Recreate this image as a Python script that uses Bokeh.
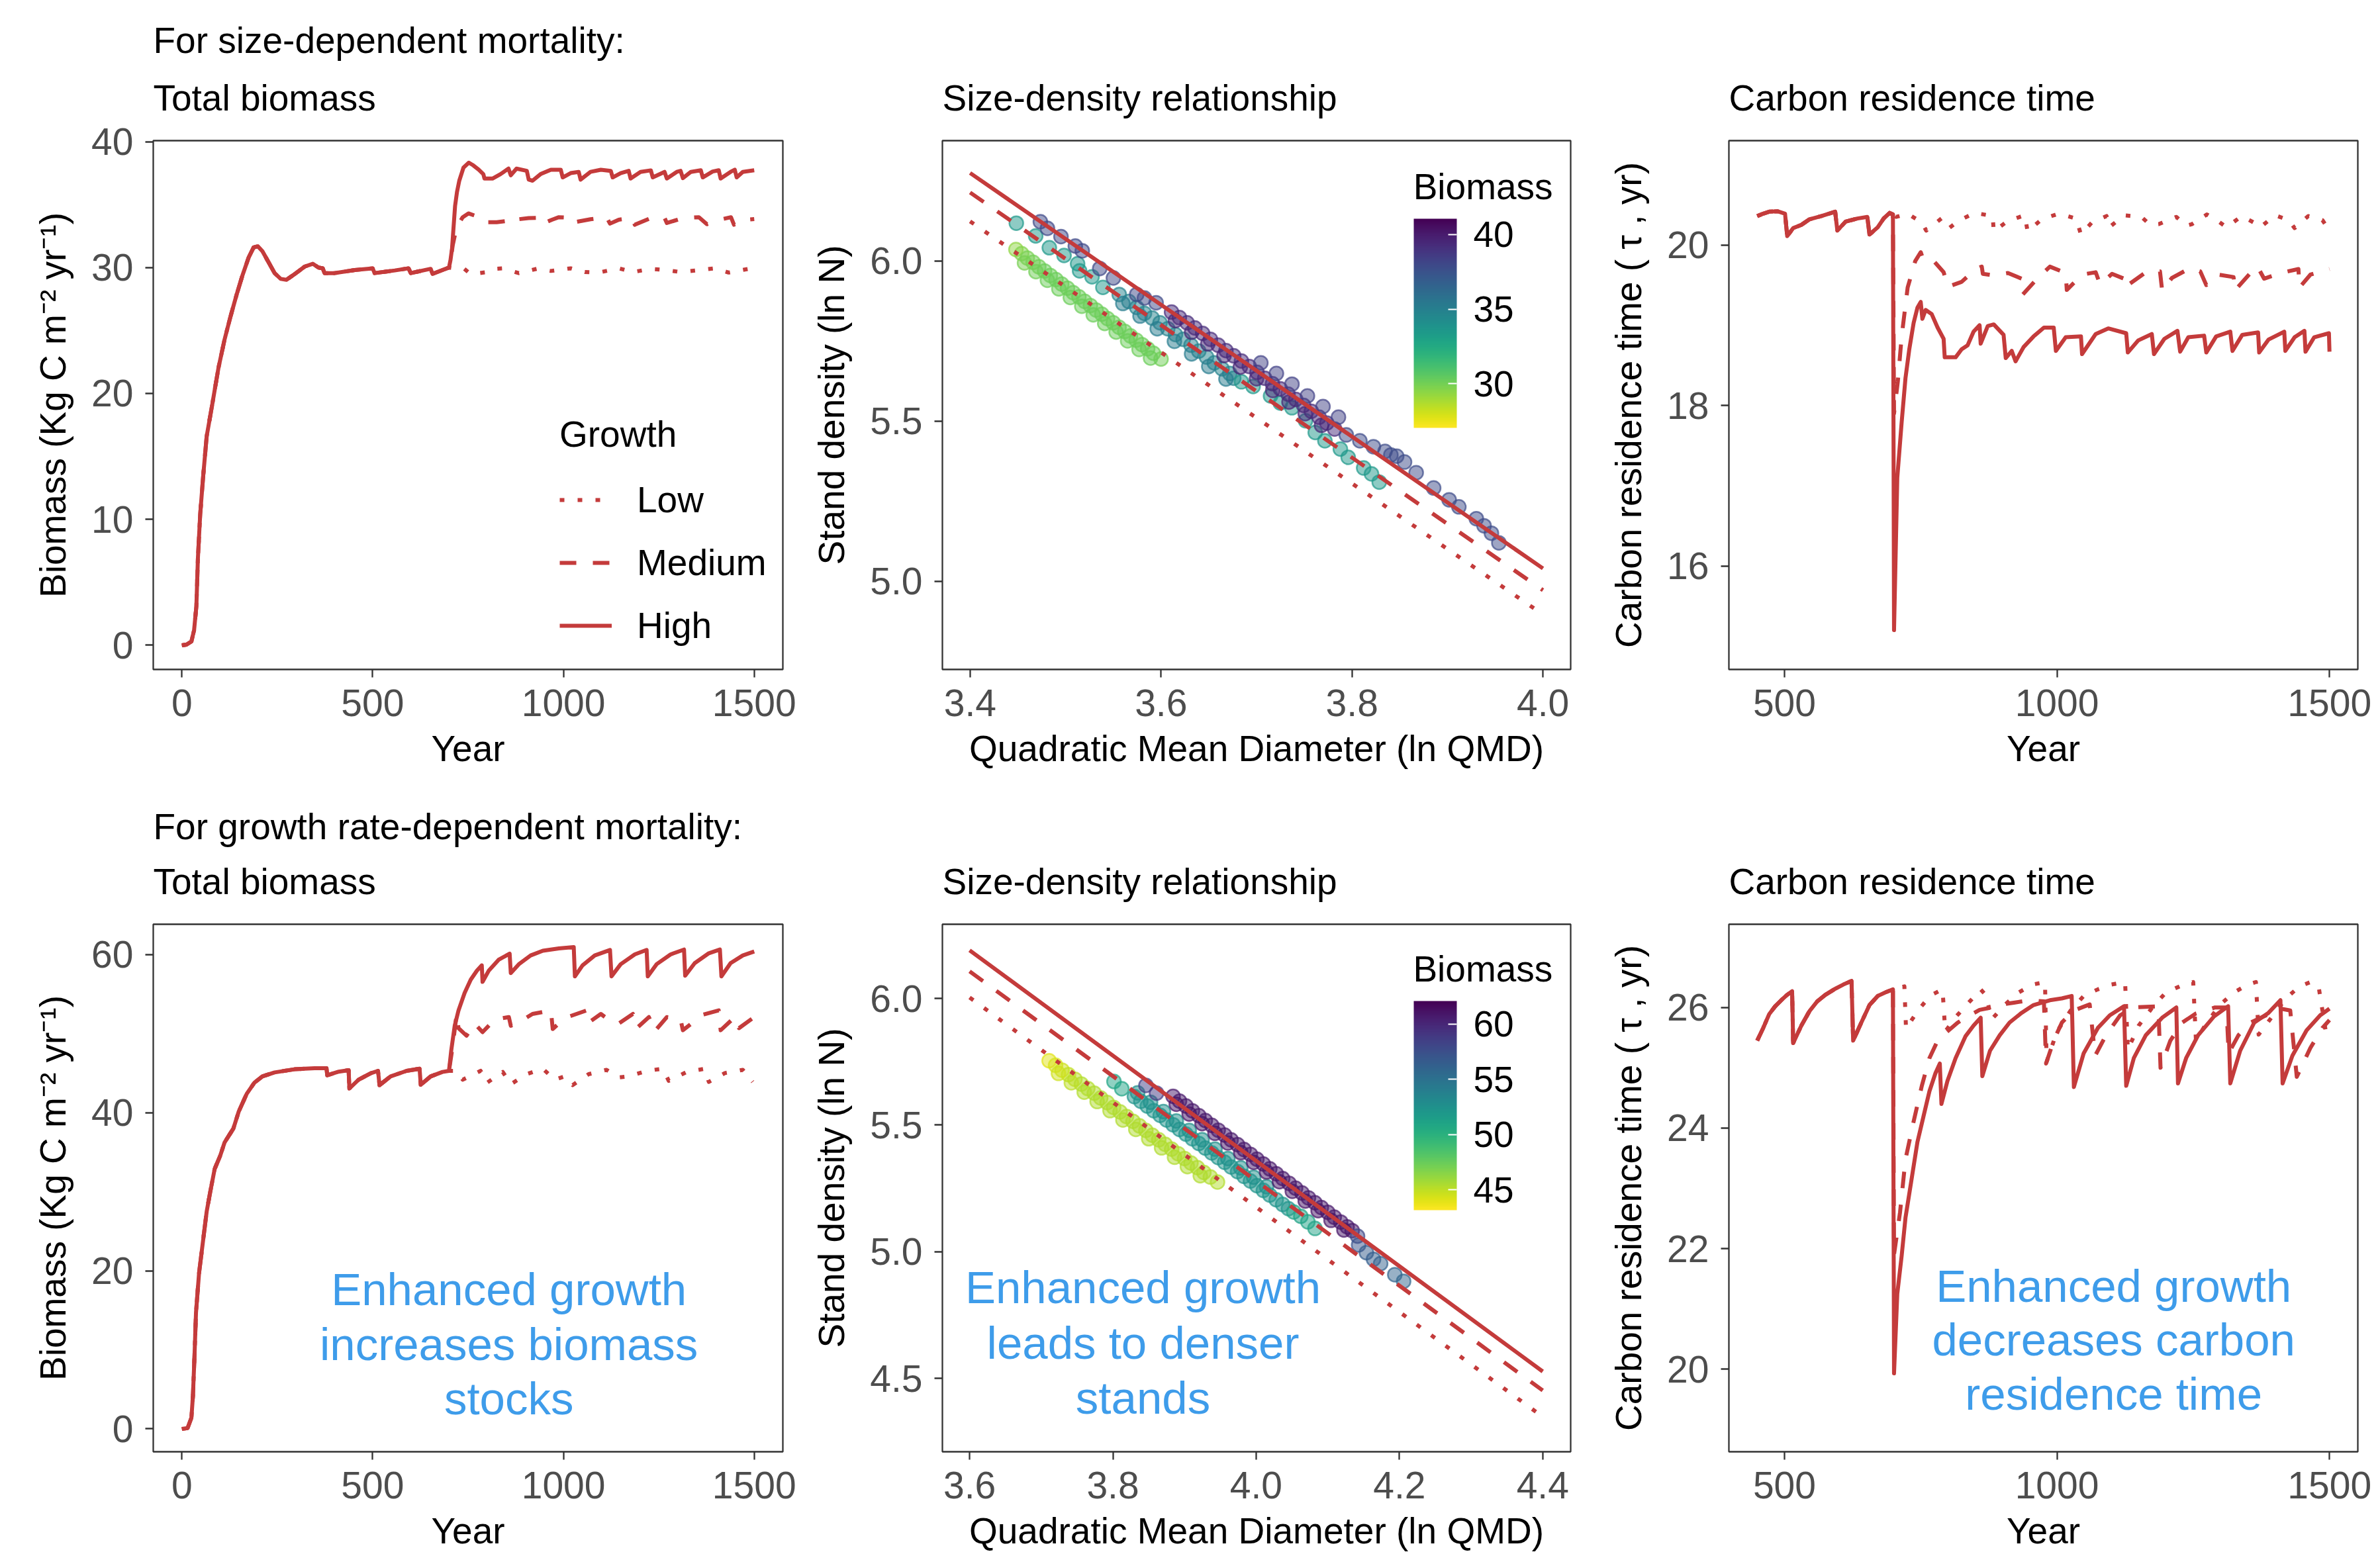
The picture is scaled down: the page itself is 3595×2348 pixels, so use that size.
from bokeh.plotting import figure
from bokeh.layouts import row, column
from bokeh.models import (Range1d, FixedTicker, PrintfTickFormatter, Title, Legend, LegendItem,
                          ColorBar, LinearColorMapper, ColumnDataSource, Label)
from bokeh.palettes import Viridis256
from bokeh.transform import transform
from bokeh.core.properties import value
from bokeh.embed import file_html
from bokeh.resources import INLINE

# ---------------- DATA ----------------
GROWTH = ["Low", "Medium", "High"]

# Panel A: size-dependent mortality, total biomass
SZ_YEAR_PRE = [0, 12, 25, 32, 38, 42, 48, 56, 65, 80, 96, 112, 127, 143, 159, 175, 188, 199, 211, 227,
               243, 259, 274, 295, 322, 343, 358, 369, 374, 400, 453, 500, 505, 558, 594, 600, 652, 657, 683, 700]
SZ_BM_PRE = [0, 0.05, 0.3, 1.2, 3.1, 6.9, 10.4, 13.5, 16.6, 19.2, 22.05, 24.3, 26.06, 27.8, 29.4, 30.8, 31.6, 31.69, 31.3, 30.43,
             29.56, 29.1, 29.03, 29.47, 30.08, 30.3, 30.0, 29.94, 29.56, 29.56, 29.8, 29.94, 29.56, 29.77, 29.94, 29.56, 29.9, 29.5, 29.8, 30.0]
SZ_YEAR_HIGH = [704, 708, 712, 716, 721, 727, 738, 752, 762, 778, 790, 793, 814, 835, 856, 862, 877, 904, 909, 919,
                940, 967, 993, 998, 1019, 1040, 1045, 1071, 1098, 1124, 1129, 1150, 1171, 1176, 1202, 1229, 1234, 1265, 1271, 1297,
                1307, 1313, 1334, 1360, 1365, 1391, 1407, 1412, 1438, 1449, 1454, 1470, 1500]
SZ_BM_HIGH = [30.6, 31.5, 33.2, 34.9, 36.0, 36.9, 37.94, 38.33, 38.15, 37.77, 37.42, 37.07, 37.07, 37.42, 37.86, 37.33, 37.86, 37.68, 36.98, 36.9,
              37.42, 37.77, 37.77, 37.16, 37.5, 37.6, 36.98, 37.6, 37.77, 37.68, 37.16, 37.5, 37.68, 37.07, 37.6, 37.72, 37.16, 37.6, 37.07, 37.6,
              37.68, 37.1, 37.6, 37.73, 37.16, 37.63, 37.73, 37.07, 37.6, 37.77, 37.16, 37.6, 37.73]
SZ_YEAR_MED = [704, 710, 720, 736, 751, 770, 790, 797, 825, 850, 867, 883, 909, 940, 946, 970, 988, 1025, 1029, 1071,
               1113, 1122, 1145, 1180, 1187, 1229, 1265, 1271, 1313, 1355, 1376, 1410, 1439, 1447, 1465, 1500]
SZ_BM_MED = [30.5, 31.8, 33.2, 34.0, 34.3, 34.1, 33.9, 33.6, 33.6, 33.7, 33.49, 33.84, 33.93, 33.95, 33.49, 33.8, 34.0, 33.95, 33.6, 33.84,
             34.0, 33.49, 33.8, 33.95, 33.4, 33.93, 33.95, 33.54, 33.93, 34.0, 33.44, 33.8, 34.0, 33.4, 33.75, 33.85]
SZ_YEAR_LOW = [715, 740, 757, 799, 820, 841, 883, 930, 967, 1019, 1056, 1092, 1145, 1182, 1229, 1271, 1307, 1355, 1396, 1433, 1486, 1500]
SZ_BM_LOW = [29.94, 29.9, 29.47, 29.64, 29.9, 29.94, 29.56, 29.9, 29.73, 29.94, 29.64, 29.6, 29.94, 29.64, 29.9, 29.8, 29.64, 29.8, 29.94, 29.6, 29.9, 29.9]

# Panel B: size-dependent mortality, size-density relationship
SD1_LINE_X = [3.4, 4.0]
SD1_LINE_LOW = [6.124, 4.896]
SD1_LINE_MED = [6.214, 4.972]
SD1_LINE_HIGH = [6.275, 5.040]
SD1_LOW_QMD = [3.448, 3.454, 3.460, 3.466, 3.472, 3.478, 3.484, 3.490, 3.496, 3.502, 3.508, 3.514, 3.520, 3.526, 3.532, 3.538,
               3.544, 3.550, 3.556, 3.562, 3.568, 3.574, 3.580, 3.586, 3.592, 3.600,
               3.457, 3.469, 3.481, 3.493, 3.505, 3.517, 3.529, 3.541, 3.553, 3.565, 3.577, 3.589]
SD1_LOW_N = [6.036, 6.023, 6.009, 5.996, 5.982, 5.969, 5.955, 5.942, 5.928, 5.915, 5.901, 5.888, 5.874, 5.861, 5.847, 5.834,
             5.820, 5.807, 5.793, 5.780, 5.766, 5.753, 5.739, 5.726, 5.712, 5.694,
             5.994, 5.967, 5.940, 5.913, 5.886, 5.859, 5.832, 5.805, 5.778, 5.751, 5.724, 5.697]
SD1_LOW_BM = [29.4, 29.7, 29.9, 30.0, 30.1, 30.2, 30.2, 30.2, 30.2, 30.2, 30.2, 30.2, 30.2, 30.2, 30.2, 30.2,
              30.2, 30.2, 30.2, 30.2, 30.2, 30.2, 30.2, 30.2, 30.2, 30.1,
              29.9, 30.1, 30.2, 30.2, 30.2, 30.2, 30.2, 30.2, 30.2, 30.2, 30.2, 30.2]
SD1_MED_QMD = [3.4484, 3.4687, 3.4830, 3.4984, 3.5126, 3.5147, 3.5277, 3.5391,
               3.5562, 3.5663, 3.5745, 3.5826, 3.5907, 3.5989, 3.6070, 3.6151, 3.6232, 3.6314, 3.6395, 3.6476, 3.6558, 3.6639, 3.6720, 3.6761,
               3.5600, 3.5780, 3.5960, 3.6140, 3.6320, 3.6500, 3.6680,
               3.6842, 3.6964, 3.7147, 3.7249, 3.7371, 3.7513, 3.7615, 3.7716, 3.7878, 3.7960, 3.8122, 3.8204, 3.8285]
SD1_MED_N = [6.1183, 6.0784, 6.0415, 6.0173, 5.9915, 5.9693, 5.9509, 5.9177,
             5.8956, 5.8735, 5.8551, 5.8367, 5.8219, 5.8072, 5.7887, 5.7703, 5.7556, 5.7371, 5.7187, 5.7003, 5.6819, 5.6634, 5.6487, 5.6340,
             5.8673, 5.8280, 5.7887, 5.7494, 5.7101, 5.6709, 5.6316,
             5.6229, 5.6081, 5.5787, 5.5565, 5.5418, 5.5013, 5.4644, 5.4386, 5.4128, 5.3870, 5.3537, 5.3354, 5.3096]
SD1_MED_BM = [33.6, 33.6, 33.6, 33.6, 33.6, 33.6, 33.6, 33.6,
              34.8, 34.8, 34.8, 34.8, 34.8, 34.8, 34.8, 34.8, 34.8, 34.8, 34.8, 34.8, 34.8, 34.8, 34.8, 34.8,
              35.2, 35.2, 35.2, 35.2, 35.2, 35.2, 35.2,
              33.6, 33.6, 33.6, 33.6, 33.6, 33.6, 33.6, 33.6, 33.6, 33.6, 33.6, 33.6, 33.6]
SD1_HIGH_QMD = [3.4736, 3.4810, 3.4952, 3.5102, 3.5175, 3.5358, 3.5501, 3.5745, 3.5826, 3.5948,
                3.6110, 3.6192, 3.6273, 3.6354, 3.6436, 3.6517, 3.6598, 3.6680, 3.6761, 3.6842, 3.6924, 3.7005, 3.7086, 3.7167,
                3.7249, 3.7330, 3.7411, 3.7493, 3.7574, 3.7655, 3.7736, 3.7818,
                3.615, 3.632, 3.649, 3.666, 3.683, 3.700, 3.717, 3.734, 3.751, 3.768,
                3.7045, 3.7208, 3.7371, 3.7533, 3.7696, 3.7858,
                3.7940, 3.8082, 3.8224, 3.8346, 3.8407, 3.8468, 3.8550, 3.8672, 3.8855, 3.9017, 3.9119, 3.9302, 3.9383, 3.9460, 3.9538]
SD1_HIGH_N = [6.1227, 6.1020, 6.0762, 6.0467, 6.0320, 5.9767, 5.9472, 5.8956, 5.8846, 5.8698,
              5.8404, 5.8234, 5.8072, 5.7910, 5.7740, 5.7556, 5.7371, 5.7202, 5.7040, 5.6878, 5.6708, 5.6524, 5.6339, 5.6170,
              5.6008, 5.5846, 5.5676, 5.5492, 5.5308, 5.5123, 5.4939, 5.4755,
              5.8139, 5.7775, 5.7412, 5.7049, 5.6686, 5.6323, 5.5959, 5.5596, 5.5233, 5.4870,
              5.6819, 5.6487, 5.6155, 5.5787, 5.5455, 5.5123,
              5.4570, 5.4386, 5.4202, 5.4054, 5.3944, 5.3907, 5.3723, 5.3391, 5.2912, 5.2543, 5.2322, 5.1954, 5.1732, 5.1500, 5.1200]
SD1_HIGH_BM = [38.0, 38.0, 38.0, 38.0, 38.0, 38.0, 38.0, 38.0, 38.0, 38.0,
               39.3, 39.3, 39.3, 39.3, 39.3, 39.3, 39.3, 39.3, 39.3, 39.3, 39.3, 39.3, 39.3, 39.3,
               39.3, 39.3, 39.3, 39.3, 39.3, 39.3, 39.3, 39.3,
               39.6, 39.6, 39.6, 39.6, 39.6, 39.6, 39.6, 39.6, 39.6, 39.6,
               38.3, 38.3, 38.3, 38.3, 38.3, 38.3,
               37.8, 37.8, 37.8, 37.8, 37.8, 37.8, 37.8, 37.8, 37.8, 37.8, 37.8, 37.8, 37.8, 37.8, 37.8]
SD1_BM_RANGE = [27.05, 41.06]
SD1_BAR_TICKS = [30, 35, 40]

# Panel C: size-dependent mortality, carbon residence time
SZ_CRT_YEAR_PRE = [450, 461, 472, 487, 501, 505, 516, 531, 546, 568, 593, 597, 612, 634, 652, 656, 671, 682, 693, 699]
SZ_CRT_PRE = [20.36, 20.39, 20.415, 20.42, 20.39, 20.11, 20.21, 20.25, 20.32, 20.36, 20.415, 20.18, 20.29, 20.33, 20.35, 20.13, 20.22, 20.33, 20.40, 20.38]
SZ_CRT_YEAR_HIGH = [701, 707, 715, 722, 729, 737, 744, 750, 753, 759, 770, 781, 792, 794, 814, 825, 836, 847, 858, 860,
                    873, 884, 902, 906, 917, 924, 939, 957, 976, 994, 998, 1016, 1044, 1046, 1071, 1094, 1127, 1130, 1149, 1174,
                    1178, 1197, 1221, 1226, 1241, 1270, 1274, 1292, 1318, 1322, 1340, 1369, 1371, 1388, 1417, 1419, 1436, 1454, 1456, 1472,
                    1499, 1500]
SZ_CRT_HIGH = [15.2, 17.1, 17.79, 18.34, 18.7, 19.03, 19.22, 19.29, 19.08, 19.19, 19.14, 18.97, 18.83, 18.6, 18.6, 18.7, 18.75, 18.92, 19.0, 18.77,
               18.99, 19.01, 18.88, 18.59, 18.68, 18.55, 18.73, 18.86, 18.97, 18.97, 18.68, 18.85, 18.86, 18.64, 18.89, 18.96, 18.90, 18.66, 18.81, 18.89,
               18.64, 18.83, 18.93, 18.67, 18.85, 18.87, 18.66, 18.86, 18.92, 18.68, 18.88, 18.91, 18.66, 18.82, 18.92, 18.68, 18.85, 18.93, 18.67, 18.85,
               18.9, 18.67]
SZ_CRT_YEAR_MED = [701, 708, 715, 726, 740, 750, 755, 774, 792, 800, 825, 851, 862, 864, 884, 910, 935, 937, 965, 987,
                   1016, 1018, 1046, 1071, 1079, 1101, 1123, 1124, 1163, 1189, 1193, 1211, 1244, 1263, 1274, 1296, 1324, 1326, 1355, 1368,
                   1380, 1410, 1443, 1445, 1465, 1500]
SZ_CRT_MED = [17.9, 18.3, 18.86, 19.47, 19.8, 19.91, 19.81, 19.80, 19.66, 19.48, 19.54, 19.70, 19.73, 19.64, 19.62, 19.65, 19.58, 19.38, 19.59, 19.73,
              19.65, 19.44, 19.63, 19.66, 19.51, 19.64, 19.58, 19.47, 19.66, 19.67, 19.43, 19.59, 19.71, 19.67, 19.5, 19.63, 19.60, 19.43, 19.65, 19.73,
              19.58, 19.65, 19.70, 19.47, 19.63, 19.70]
SZ_CRT_YEAR_LOW = [705, 726, 752, 760, 788, 802, 819, 849, 882, 884, 910, 941, 946, 972, 1003, 1035, 1044, 1064, 1091, 1096,
                   1123, 1155, 1171, 1187, 1219, 1237, 1248, 1275, 1297, 1311, 1339, 1361, 1373, 1400, 1425, 1436, 1461, 1487, 1498]
SZ_CRT_LOW = [20.35, 20.39, 20.28, 20.18, 20.33, 20.21, 20.30, 20.40, 20.36, 20.17, 20.30, 20.37, 20.17, 20.32, 20.39, 20.33, 20.13, 20.28, 20.36, 20.22,
              20.37, 20.35, 20.25, 20.26, 20.35, 20.24, 20.26, 20.38, 20.29, 20.22, 20.36, 20.28, 20.22, 20.37, 20.31, 20.21, 20.36, 20.31, 20.20]

# Panel D: growth rate-dependent mortality, total biomass
GR_YEAR_PRE = [0, 15, 25, 29, 33, 37, 45, 56, 65, 74, 86, 100, 112, 135, 149, 170, 190, 211, 243, 295,
               348, 379, 381, 411, 437, 439, 463, 495, 514, 518, 547, 589, 623, 626, 652, 683, 700]
GR_BM_PRE = [0, 0.1, 1.4, 4.2, 9.1, 14.7, 19.7, 24.0, 27.5, 29.9, 32.9, 34.5, 36.25, 38.0, 40.15, 42.4, 43.8, 44.6, 45.1, 45.5,
             45.63, 45.63, 44.74, 45.2, 45.38, 43.07, 44.18, 45.0, 45.3, 43.49, 44.6, 45.3, 45.57, 43.54, 44.6, 45.16, 45.3]
GR_YEAR_HIGH = [706, 715, 725, 741, 757, 773, 786, 788, 804, 830, 859, 862, 883, 914, 946, 988, 1027, 1030, 1050, 1082,
                1122, 1126, 1150, 1187, 1218, 1221, 1244, 1281, 1316, 1319, 1344, 1381, 1410, 1414, 1438, 1470, 1500]
GR_BM_HIGH = [47.9, 51.0, 52.95, 55.17, 56.84, 57.96, 58.65, 56.56, 57.96, 59.35, 60.13, 57.68, 58.79, 59.9, 60.5, 60.79, 60.96, 57.26, 58.65, 59.9,
              60.6, 57.26, 58.79, 60.04, 60.6, 57.26, 58.79, 60.04, 60.65, 57.34, 58.93, 60.18, 60.65, 57.26, 58.93, 59.9, 60.4]
GR_YEAR_MED = [710, 720, 725, 746, 767, 788, 820, 857, 862, 878, 919, 967, 972, 1003, 1061, 1066, 1098, 1124, 1145, 1182,
               1192, 1224, 1239, 1271, 1307, 1313, 1365, 1407, 1412, 1449, 1460, 1496]
GR_BM_MED = [48.5, 52.5, 50.7, 49.75, 51.3, 50.2, 51.8, 52.1, 51.0, 51.3, 52.5, 52.95, 50.6, 51.97, 52.95, 51.4, 52.5, 51.56, 51.3, 52.5,
             50.7, 52.1, 50.3, 52.1, 51.8, 50.44, 52.4, 52.95, 50.44, 52.1, 50.7, 51.97]
GR_YEAR_LOW = [720, 736, 783, 799, 841, 862, 904, 946, 977, 1003, 1024, 1066, 1113, 1145, 1171, 1218, 1260, 1276, 1323, 1370, 1381, 1423, 1470, 1496]
GR_BM_LOW = [45.3, 44.18, 45.3, 43.77, 45.16, 43.6, 44.9, 45.57, 44.18, 44.6, 43.49, 44.88, 45.43, 44.46, 44.6, 45.3, 45.57, 44.04, 45.16, 45.57, 43.9, 45.02, 45.43, 43.9]

# Panel E: growth rate-dependent mortality, size-density relationship
SD2_LINE_X = [3.6, 4.4]
SD2_LINE_LOW = [6.004, 4.348]
SD2_LINE_MED = [6.107, 4.452]
SD2_LINE_HIGH = [6.190, 4.527]
SD2_LOW_QMD = [3.711, 3.720, 3.729, 3.738, 3.747, 3.756, 3.765, 3.774, 3.783, 3.792, 3.801, 3.810, 3.819, 3.828, 3.837, 3.846,
               3.855, 3.864, 3.873, 3.882, 3.891, 3.900, 3.909, 3.918, 3.927, 3.936, 3.946,
               3.724, 3.742, 3.760, 3.778, 3.796, 3.814, 3.832, 3.850, 3.868, 3.886, 3.904, 3.922]
SD2_LOW_N = [5.754, 5.736, 5.717, 5.699, 5.681, 5.662, 5.644, 5.626, 5.607, 5.589, 5.570, 5.552, 5.534, 5.515, 5.497, 5.479,
             5.460, 5.442, 5.424, 5.405, 5.387, 5.368, 5.350, 5.332, 5.313, 5.295, 5.275,
             5.704, 5.667, 5.630, 5.593, 5.557, 5.520, 5.483, 5.446, 5.410, 5.373, 5.336, 5.300]
SD2_LOW_BM = [44.0, 44.3, 44.6, 44.9, 45.1, 45.3, 45.3, 45.4, 45.4, 45.4, 45.4, 45.4, 45.4, 45.4, 45.4, 45.4,
              45.4, 45.4, 45.4, 45.4, 45.4, 45.4, 45.4, 45.4, 45.4, 45.4, 45.3,
              44.5, 45.0, 45.3, 45.4, 45.4, 45.4, 45.4, 45.4, 45.4, 45.4, 45.4, 45.4]
SD2_MED_QMD = [3.8015, 3.8124,
               3.830, 3.839, 3.848, 3.857, 3.866, 3.875, 3.884, 3.893, 3.902, 3.911, 3.920, 3.929, 3.938, 3.947, 3.956, 3.965,
               3.974, 3.983, 3.992, 4.001, 4.010, 4.019, 4.028, 4.037, 4.045,
               3.8345, 3.8525, 3.8705, 3.8885, 3.9065, 3.9245, 3.9425, 3.9605, 3.9785, 3.9965, 4.0145,
               4.0524, 4.0623, 4.0722, 4.0821]
SD2_MED_N = [5.6721, 5.6435,
             5.6125, 5.5940, 5.5754, 5.5569, 5.5384, 5.5199, 5.5014, 5.4828, 5.4643, 5.4458, 5.4273, 5.4088, 5.3902, 5.3717, 5.3532, 5.3347,
             5.3162, 5.2976, 5.2791, 5.2606, 5.2421, 5.2236, 5.2050, 5.1865, 5.1700,
             5.6272, 5.5902, 5.5531, 5.5161, 5.4791, 5.4420, 5.4050, 5.3679, 5.3309, 5.2938, 5.2568,
             5.1570, 5.1396, 5.1179, 5.0918]
SD2_MED_BM = [51.0, 51.0,
              52.3, 52.3, 52.3, 52.3, 52.3, 52.3, 52.3, 52.3, 52.3, 52.3, 52.3, 52.3, 52.3, 52.3, 52.3, 52.3,
              52.3, 52.3, 52.3, 52.3, 52.3, 52.3, 52.3, 52.3, 52.3,
              52.6, 52.6, 52.6, 52.6, 52.6, 52.6, 52.6, 52.6, 52.6, 52.6, 52.6,
              51.2, 51.2, 51.2, 51.2]
SD2_HIGH_QMD = [3.8461, 3.8609,
                3.884, 3.893, 3.902, 3.911, 3.920, 3.929, 3.938, 3.947, 3.956, 3.965, 3.974, 3.983, 3.992, 4.001, 4.010,
                4.019, 4.028, 4.037, 4.046, 4.055, 4.064, 4.073, 4.082, 4.091, 4.100, 4.109, 4.118, 4.127, 4.134,
                3.8885, 3.9065, 3.9245, 3.9425, 3.9605, 3.9785, 3.9965, 4.0145, 4.0325, 4.0505, 4.0685, 4.0865, 4.1045, 4.1225,
                4.1415, 4.1430, 4.1539, 4.1638, 4.1737, 4.1935, 4.2058]
SD2_HIGH_N = [5.6565, 5.6261,
              5.6135, 5.5944, 5.5753, 5.5562, 5.5371, 5.5180, 5.4989, 5.4798, 5.4607, 5.4417, 5.4226, 5.4035, 5.3844, 5.3653, 5.3462,
              5.3271, 5.3080, 5.2889, 5.2699, 5.2508, 5.2317, 5.2126, 5.1935, 5.1744, 5.1553, 5.1362, 5.1171, 5.0980, 5.0832,
              5.5820, 5.5438, 5.5056, 5.4675, 5.4293, 5.3911, 5.3529, 5.3147, 5.2766, 5.2384, 5.2002, 5.1620, 5.1238, 5.0857,
              5.0614, 5.0267, 4.9963, 4.9702, 4.9528, 4.9094, 4.8833]
SD2_HIGH_BM = [58.5, 59.0,
               60.8, 60.8, 60.8, 60.8, 60.8, 60.8, 60.8, 60.8, 60.8, 60.8, 60.8, 60.8, 60.8, 60.8, 60.8,
               60.8, 60.8, 60.8, 60.8, 60.8, 60.8, 60.8, 60.8, 60.8, 60.8, 60.8, 60.8, 60.8, 60.8,
               61.0, 61.0, 61.0, 61.0, 61.0, 61.0, 61.0, 61.0, 61.0, 61.0, 61.0, 61.0, 61.0, 61.0,
               58.0, 57.2, 56.6, 56.4, 56.2, 56.0, 55.8]
SD2_BM_RANGE = [43.15, 62.07]
SD2_BAR_TICKS = [45, 50, 55, 60]

# Panel F: growth rate-dependent mortality, carbon residence time
GR_CRT_YEAR_PRE = [450, 461, 472, 483, 494, 505, 514, 516, 531, 546, 560, 575, 593, 608, 623, 626, 641, 656, 671, 685, 699]
GR_CRT_PRE = [25.45, 25.66, 25.89, 26.02, 26.12, 26.21, 26.27, 25.41, 25.70, 25.94, 26.10, 26.21, 26.31, 26.38, 26.44, 25.45, 25.75, 26.04, 26.19, 26.25, 26.30]
GR_CRT_YEAR_HIGH = [701, 707, 715, 722, 733, 744, 755, 766, 777, 785, 788, 799, 814, 832, 847, 860, 863, 877, 895, 913,
                    935, 957, 987, 1009, 1027, 1031, 1049, 1075, 1097, 1123, 1127, 1141, 1163, 1193, 1219, 1222, 1237, 1259, 1288, 1314,
                    1318, 1336, 1362, 1388, 1410, 1414, 1432, 1458, 1483, 1500]
GR_CRT_HIGH = [19.93, 21.25, 21.88, 22.51, 23.14, 23.77, 24.19, 24.61, 24.91, 25.07, 24.40, 24.78, 25.16, 25.52, 25.70, 25.83, 24.86, 25.28, 25.54, 25.75,
               25.91, 26.04, 26.12, 26.15, 26.19, 24.68, 25.24, 25.66, 25.87, 26.02, 24.70, 25.16, 25.54, 25.83, 26.0, 24.74, 25.16, 25.54, 25.85, 26.02,
               24.74, 25.28, 25.75, 25.91, 26.12, 24.74, 25.2, 25.62, 25.87, 25.98]
GR_CRT_YEAR_MED = [701, 712, 722, 737, 752, 766, 781, 796, 818, 840, 858, 880, 899, 921, 950, 976, 980, 994, 1009, 1031,
                   1060, 1070, 1090, 1116, 1140, 1186, 1190, 1208, 1230, 1255, 1290, 1311, 1315, 1333, 1355, 1384, 1399, 1428, 1440, 1465,
                   1487, 1500]
GR_CRT_MED = [21.9, 22.6, 23.48, 24.11, 24.70, 25.16, 25.45, 25.58, 25.75, 25.87, 25.96, 26.0, 26.05, 26.08, 26.12, 26.10, 25.07, 25.45, 25.75, 25.95,
              26.05, 25.2, 25.54, 25.87, 26.0, 26.02, 25.0, 25.45, 25.75, 25.9, 26.0, 26.0, 25.24, 25.54, 25.75, 25.87, 26.0, 25.95, 24.85, 25.33,
              25.66, 25.79]
GR_CRT_YEAR_LOW = [720, 723, 745, 768, 790, 795, 815, 840, 860, 870, 880, 905, 930, 955, 978, 981, 1000, 1025, 1050, 1075,
                   1100, 1125, 1130, 1150, 1175, 1200, 1225, 1250, 1255, 1275, 1300, 1325, 1350, 1365, 1370, 1395, 1420, 1445, 1465, 1480,
                   1495, 1500]
GR_CRT_LOW = [26.35, 25.65, 25.95, 26.2, 26.3, 25.6, 25.85, 26.1, 26.3, 26.2, 25.8, 26.05, 26.25, 26.38, 26.42, 25.1, 25.6, 25.95, 26.2, 26.3,
              26.38, 26.42, 25.3, 25.7, 26.0, 26.25, 26.35, 26.42, 25.45, 25.75, 26.05, 26.25, 26.38, 26.42, 25.55, 25.85, 26.15, 26.35, 26.42, 26.35,
              25.5, 25.45]

# Annotation texts
ANN_BM_TEXT = ["Enhanced growth", "increases biomass", "stocks"]
ANN_BM_X = [857, 857, 857]
ANN_BM_Y = [17.61, 10.64, 3.84]
ANN_SD_TEXT = ["Enhanced growth", "leads to denser", "stands"]
ANN_SD_X = [3.842, 3.842, 3.842]
ANN_SD_Y = [4.858, 4.639, 4.423]
ANN_CRT_TEXT = ["Enhanced growth", "decreases carbon", "residence time"]
ANN_CRT_X = [1104, 1104, 1104]
ANN_CRT_Y = [21.38, 20.48, 19.58]
CB1_TITLE_POS = (3.8641, 6.233)
CB2_TITLE_POS = (4.219, 6.117)

# ---------------- STYLE ----------------
RED = "#C43B3B"
BLUE = "#3E9CEA"
FONT = "Liberation Sans"
DARK = "#333333"
LW = 6
DASHES = {"Low": "7 20", "Medium": "25 25", "High": "solid"}
VIRIDIS_REV = list(reversed(Viridis256))
PANEL_TITLE_STANDOFF = 68
HEADING_STANDOFF_ROW1 = -23
HEADING_STANDOFF_ROW2 = -31


def make_fig(w, h, bl, br, bt, bb, xr, yr, xticks, yticks, xlabel, ylabel, xfmt=None, yfmt=None):
    p = figure(width=w, height=h, x_range=Range1d(*xr), y_range=Range1d(*yr),
               output_backend="svg", toolbar_location=None, title=None,
               min_border_left=bl, min_border_right=br, min_border_top=bt, min_border_bottom=bb)
    p.xgrid.visible = False
    p.ygrid.visible = False
    p.background_fill_color = "white"
    p.border_fill_color = "white"
    p.outline_line_color = DARK
    p.outline_line_width = 2.3
    p.xaxis.ticker = FixedTicker(ticks=xticks)
    p.yaxis.ticker = FixedTicker(ticks=yticks)
    if xfmt:
        p.xaxis.formatter = PrintfTickFormatter(format=xfmt)
    if yfmt:
        p.yaxis.formatter = PrintfTickFormatter(format=yfmt)
    p.xaxis.axis_label = xlabel
    p.yaxis.axis_label = ylabel
    for ax in (p.xaxis[0], p.yaxis[0]):
        ax.axis_line_color = None
        ax.major_tick_line_color = DARK
        ax.major_tick_line_width = 2.3
        ax.major_tick_in = 0
        ax.major_tick_out = 12
        ax.minor_tick_line_color = None
        ax.major_label_text_font = FONT
        ax.major_label_text_font_size = "57px"
        ax.major_label_text_color = "#4D4D4D"
        ax.axis_label_text_font = FONT
        ax.axis_label_text_font_size = "55px"
        ax.axis_label_text_font_style = "normal"
        ax.axis_label_text_color = "black"
    p.xaxis[0].major_label_standoff = 18
    p.xaxis[0].axis_label_standoff = 15
    p.yaxis[0].major_label_standoff = 18
    p.yaxis[0].axis_label_standoff = 24
    return p


def add_title(p, text, standoff):
    p.add_layout(Title(text=text, align="left", text_font=FONT, text_font_size="55px",
                       text_font_style="normal", text_color="black", standoff=standoff), "above")


def growth_lines(p, x_pre, y_pre, parts):
    rends = {}
    for g in GROWTH:
        xa, ya = parts[g]
        r = p.line(x_pre + xa, y_pre + ya, line_color=RED, line_width=LW,
                   line_dash=DASHES[g], line_join="round")
        rends[g] = r
    return rends


def sd_panel(p, clusters, rng, ticks, lines_x, lines, title_pos):
    mapper = LinearColorMapper(palette=VIRIDIS_REV, low=rng[0], high=rng[1])
    for qmd, n, bm in clusters:
        src = ColumnDataSource(dict(qmd=qmd, n=n, bm=bm))
        p.scatter("qmd", "n", source=src, marker="circle", size=21,
                  fill_color=transform("bm", mapper), line_color=transform("bm", mapper),
                  fill_alpha=0.5, line_alpha=0.7, line_width=2.5)
    for g in GROWTH:
        p.line(lines_x, lines[g], line_color=RED, line_width=LW, line_dash=DASHES[g])
    cb = ColorBar(color_mapper=mapper, ticker=FixedTicker(ticks=ticks), location=(712, 365),
                  width=65, height=316, padding=0, title=None,
                  major_label_text_font=FONT, major_label_text_font_size="55px",
                  major_label_text_color="black", label_standoff=25,
                  major_tick_line_color="white", major_tick_line_width=2,
                  major_tick_in=13, major_tick_out=0, minor_tick_line_color=None,
                  bar_line_color=None, border_line_color=None, background_fill_color=None)
    p.add_layout(cb, "center")
    p.add_layout(Label(x=title_pos[0], y=title_pos[1], text="Biomass", text_font=FONT,
                       text_font_size="55px", text_color="black", text_align="left",
                       text_baseline="alphabetic"))


def add_note(p, xs, ys, texts):
    src = ColumnDataSource(dict(x=xs, y=ys, t=texts))
    p.text("x", "y", text="t", source=src, text_align="center", text_baseline="alphabetic",
           text_font=value(FONT), text_font_size=value("69px"), text_color=BLUE)


BM_YLABEL = "Biomass (Kg C m\u207b\u00b2 yr\u207b\u00b9)"
SD_YLABEL = "Stand density (ln N)"
SD_XLABEL = "Quadratic Mean Diameter (ln QMD)"
CRT_YLABEL = "Carbon residence time ( \u03c4 , yr)"

# Column / row geometry (page has no margin)
W1, W2, W3 = 1215, 1185, 1193
H1, H2 = 1190, 1156

# ---------- Row 1 ----------
p1 = make_fig(W1, H1, 231, 33, 212, 179, (-75, 1575), (-1.92, 40.08), [0, 500, 1000, 1500], [0, 10, 20, 30, 40], "Year", BM_YLABEL)
add_title(p1, "Total biomass", PANEL_TITLE_STANDOFF)
add_title(p1, "For size-dependent mortality:", HEADING_STANDOFF_ROW1)
r1 = growth_lines(p1, SZ_YEAR_PRE, SZ_BM_PRE, {"Low": (SZ_YEAR_LOW, SZ_BM_LOW),
                                                "Medium": (SZ_YEAR_MED, SZ_BM_MED),
                                                "High": (SZ_YEAR_HIGH, SZ_BM_HIGH)})
legend = Legend(items=[LegendItem(label=g, renderers=[r1[g]]) for g in GROWTH],
                title="Growth", location=(614, 31), orientation="vertical",
                background_fill_alpha=0, border_line_color=None,
                label_text_font=FONT, label_text_font_size="55px", label_text_color="black",
                title_text_font=FONT, title_text_font_size="55px", title_text_font_style="normal",
                title_text_color="black",
                glyph_width=79, glyph_height=70, label_height=70, spacing=25, padding=0, margin=0,
                label_standoff=38, title_standoff=32)
p1.add_layout(legend, "center")

p2 = make_fig(W2, H1, 208, 28, 212, 179, (3.371, 4.029), (4.7245, 6.376), [3.4, 3.6, 3.8, 4.0], [5.0, 5.5, 6.0],
              SD_XLABEL, SD_YLABEL, "%.1f", "%.1f")
add_title(p2, "Size-density relationship", PANEL_TITLE_STANDOFF)
sd_panel(p2, [(SD1_LOW_QMD, SD1_LOW_N, SD1_LOW_BM), (SD1_MED_QMD, SD1_MED_N, SD1_MED_BM),
              (SD1_HIGH_QMD, SD1_HIGH_N, SD1_HIGH_BM)], SD1_BM_RANGE, SD1_BAR_TICKS, SD1_LINE_X,
         {"Low": SD1_LINE_LOW, "Medium": SD1_LINE_MED, "High": SD1_LINE_HIGH}, CB1_TITLE_POS)

p3 = make_fig(W3, H1, 211, 32, 212, 179, (398, 1552), (14.71, 21.30), [500, 1000, 1500], [16, 18, 20], "Year", CRT_YLABEL)
add_title(p3, "Carbon residence time", PANEL_TITLE_STANDOFF)
growth_lines(p3, SZ_CRT_YEAR_PRE, SZ_CRT_PRE, {"Low": (SZ_CRT_YEAR_LOW, SZ_CRT_LOW),
                                               "Medium": (SZ_CRT_YEAR_MED, SZ_CRT_MED),
                                               "High": (SZ_CRT_YEAR_HIGH, SZ_CRT_HIGH)})

# ---------- Row 2 ----------
p4 = make_fig(W1, H2, 231, 33, 206, 151, (-75, 1575), (-2.9, 63.85), [0, 500, 1000, 1500], [0, 20, 40, 60], "Year", BM_YLABEL)
add_title(p4, "Total biomass", PANEL_TITLE_STANDOFF)
add_title(p4, "For growth rate-dependent mortality:", HEADING_STANDOFF_ROW2)
growth_lines(p4, GR_YEAR_PRE, GR_BM_PRE, {"Low": (GR_YEAR_LOW, GR_BM_LOW),
                                          "Medium": (GR_YEAR_MED, GR_BM_MED),
                                          "High": (GR_YEAR_HIGH, GR_BM_HIGH)})
add_note(p4, ANN_BM_X, ANN_BM_Y, ANN_BM_TEXT)

p5 = make_fig(W2, H2, 208, 28, 206, 151, (3.562, 4.439), (4.21, 6.293), [3.6, 3.8, 4.0, 4.2, 4.4], [4.5, 5.0, 5.5, 6.0],
              SD_XLABEL, SD_YLABEL, "%.1f", "%.1f")
add_title(p5, "Size-density relationship", PANEL_TITLE_STANDOFF)
sd_panel(p5, [(SD2_LOW_QMD, SD2_LOW_N, SD2_LOW_BM), (SD2_MED_QMD, SD2_MED_N, SD2_MED_BM),
              (SD2_HIGH_QMD, SD2_HIGH_N, SD2_HIGH_BM)], SD2_BM_RANGE, SD2_BAR_TICKS, SD2_LINE_X,
         {"Low": SD2_LINE_LOW, "Medium": SD2_LINE_MED, "High": SD2_LINE_HIGH}, CB2_TITLE_POS)
add_note(p5, ANN_SD_X, ANN_SD_Y, ANN_SD_TEXT)

p6 = make_fig(W3, H2, 211, 32, 206, 151, (398, 1552), (18.63, 27.38), [500, 1000, 1500], [20, 22, 24, 26], "Year", CRT_YLABEL)
add_title(p6, "Carbon residence time", PANEL_TITLE_STANDOFF)
growth_lines(p6, GR_CRT_YEAR_PRE, GR_CRT_PRE, {"Low": (GR_CRT_YEAR_LOW, GR_CRT_LOW),
                                               "Medium": (GR_CRT_YEAR_MED, GR_CRT_MED),
                                               "High": (GR_CRT_YEAR_HIGH, GR_CRT_HIGH)})
add_note(p6, ANN_CRT_X, ANN_CRT_Y, ANN_CRT_TEXT)

layout = column(row(p1, p2, p3), row(p4, p5, p6))
open("out.html", "w").write(file_html(layout, INLINE))
